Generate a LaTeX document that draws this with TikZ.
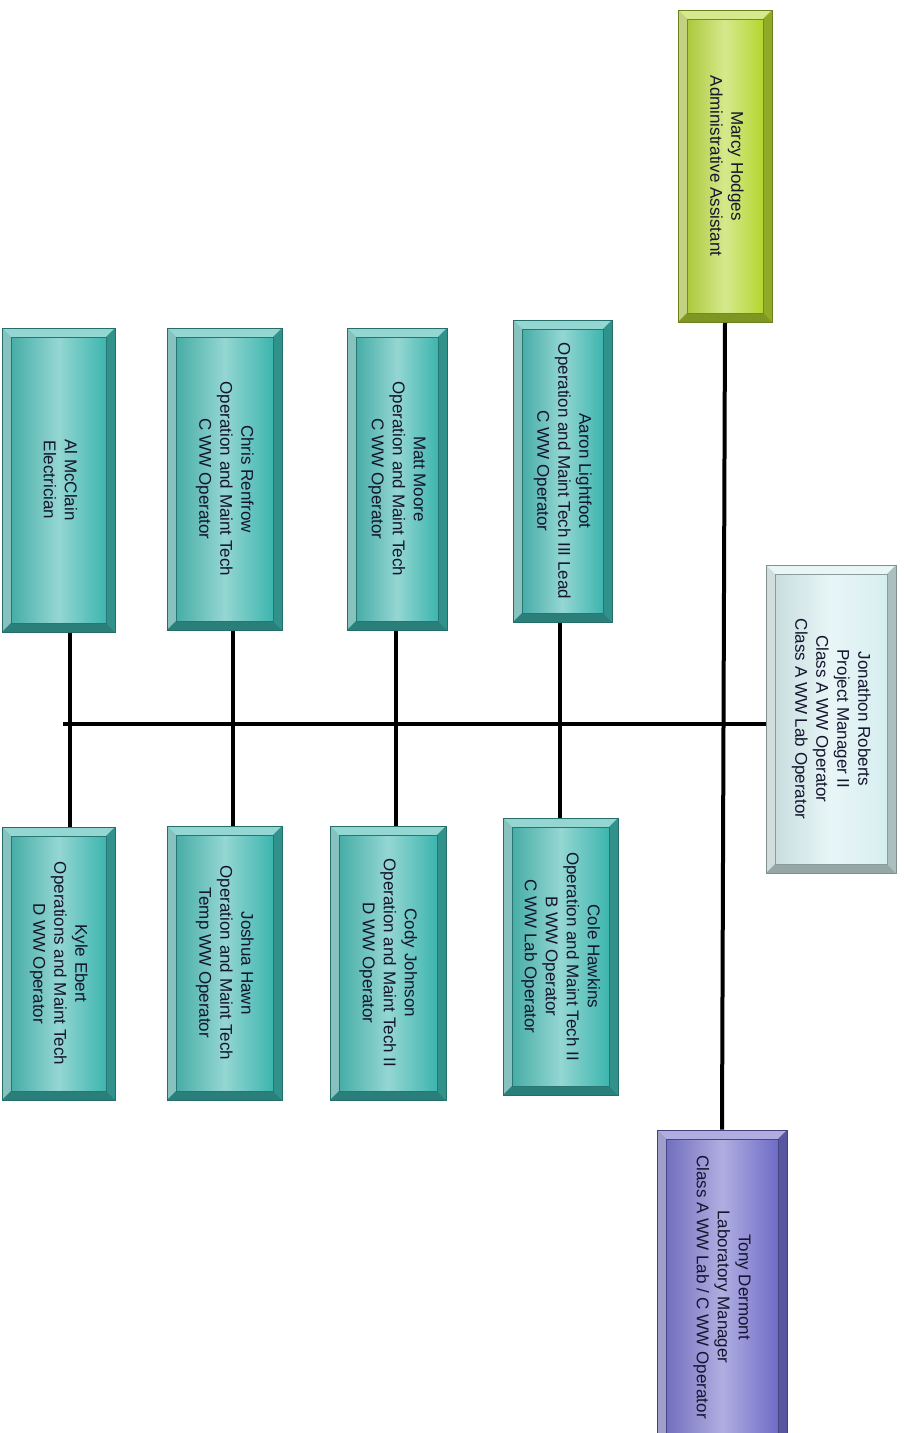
\documentclass[tikz,border=0pt]{standalone}
\usepackage{fontspec}
\setmainfont{Liberation Sans}
\usepackage{graphicx}
\usepackage{tikz}
\usetikzlibrary{backgrounds,calc}
\definecolor{tealbox}{HTML}{3DB5AE}
\definecolor{limebox}{HTML}{B4D630}
\definecolor{palebox}{HTML}{D6EEF0}
\definecolor{violetbox}{HTML}{6F6CC8}
\definecolor{cardink}{HTML}{14142E}
\newcommand\cardtext[1]{\rotatebox{-90}{\begin{tabular}{@{}c@{}}#1\end{tabular}}}
\tikzset{
  % kort med fasad kant
  card/.style={rectangle,draw=#1!60!black,line width=0.8pt,fill=#1,inner sep=0pt,
    text=cardink,font=\fontsize{17}{21}\selectfont,
    path picture={
      \coordinate (pnw) at (path picture bounding box.north west);
      \coordinate (pne) at (path picture bounding box.north east);
      \coordinate (psw) at (path picture bounding box.south west);
      \coordinate (pse) at (path picture bounding box.south east);
      \fill[#1!55!white] (pnw) -- (pne) -- ([shift={(-9pt,-9pt)}]pne) -- ([shift={(9pt,-9pt)}]pnw) -- cycle;
      \fill[#1!60!white!80!gray] (pnw) -- (psw) -- ([shift={(9pt,9pt)}]psw) -- ([shift={(9pt,-9pt)}]pnw) -- cycle;
      \fill[#1!80!black] (pne) -- (pse) -- ([shift={(-9pt,9pt)}]pse) -- ([shift={(-9pt,-9pt)}]pne) -- cycle;
      \fill[#1!70!black] (psw) -- (pse) -- ([shift={(-9pt,9pt)}]pse) -- ([shift={(9pt,9pt)}]psw) -- cycle;
      \shade[left color=#1!85!gray,right color=#1,middle color=#1!55!white]
        ([shift={(9pt,9pt)}]psw) rectangle ([shift={(-9pt,-9pt)}]pne);
      \draw[#1!65!black,line width=0.4pt]
        ([shift={(9pt,9pt)}]psw) rectangle ([shift={(-9pt,-9pt)}]pne);
    }},
  dims/.style 2 args={minimum width=#1pt,minimum height=#2pt},
  wire/.style={draw=black,line width=4pt},
}
\begin{document}
\begin{tikzpicture}[x=1pt,y=-1pt]
  \useasboundingbox (0,0) rectangle (903,1433);
  % ledning
  \node[card=limebox,dims={94}{312}] (marcy) at (725,166)
    {\cardtext{Marcy Hodges\\Administrative Assistant}};
  \node[card=palebox,dims={130}{308}] (jon) at (831,719)
    {\cardtext{Jonathon Roberts\\Project Manager II\\Class A WW Operator\\Class A WW Lab Operator}};
  \node[card=violetbox,dims={130}{314}] (tony) at (722,1287)
    {\cardtext{Tony Dermont\\Laboratory Manager\\Class A WW Lab / C WW Operator}};
  % övre raden
  \node[card=tealbox,dims={99}{302}] (aaron) at (562.5,471)
    {\cardtext{Aaron Lightfoot\\Operation and Maint Tech III Lead\\C WW Operator}};
  \node[card=tealbox,dims={100}{302}] (matt) at (397,479)
    {\cardtext{Matt Moore\\Operation and Maint Tech\\C WW Operator}};
  \node[card=tealbox,dims={115}{302}] (chris) at (224.5,479)
    {\cardtext{Chris Renfrow\\Operation and Maint Tech\\C WW Operator}};
  \node[card=tealbox,dims={113}{304}] (al) at (58.5,480)
    {\cardtext{Al McClain\\Electrician}};
  % nedre raden
  \node[card=tealbox,dims={115}{277}] (cole) at (560.5,956.5)
    {\cardtext{Cole Hawkins\\Operation and Maint Tech II\\B WW Operator\\C WW Lab Operator}};
  \node[card=tealbox,dims={116}{274}] (cody) at (388,963)
    {\cardtext{Cody Johnson\\Operation and Maint Tech II\\D WW Operator}};
  \node[card=tealbox,dims={115}{274}] (joshua) at (224.5,963)
    {\cardtext{Joshua Hawn\\Operation and Maint Tech\\Temp WW Operator}};
  \node[card=tealbox,dims={113}{273}] (kyle) at (58.5,963.5)
    {\cardtext{Kyle Ebert\\Operations and Maint Tech\\D WW Operator}};
  \coordinate (busend) at (63,724);
  \begin{scope}[on background layer]
  \draw[wire] (marcy.south) -- (tony.north);
  \draw[wire] (busend) -- (busend -| jon.west);
  \draw[wire] ([xshift=-3pt]aaron.south) -- ([xshift=-3pt]aaron.south |- cole.north);
  \draw[wire] ([xshift=-1pt]matt.south) -- ([xshift=-1pt]matt.south |- cody.north);
  \draw[wire] ([xshift=8pt]chris.south) -- ([xshift=8pt]chris.south |- joshua.north);
  \draw[wire] ([xshift=11pt]al.south) -- ([xshift=11pt]al.south |- kyle.north);
  \end{scope}
\end{tikzpicture}
\end{document}
